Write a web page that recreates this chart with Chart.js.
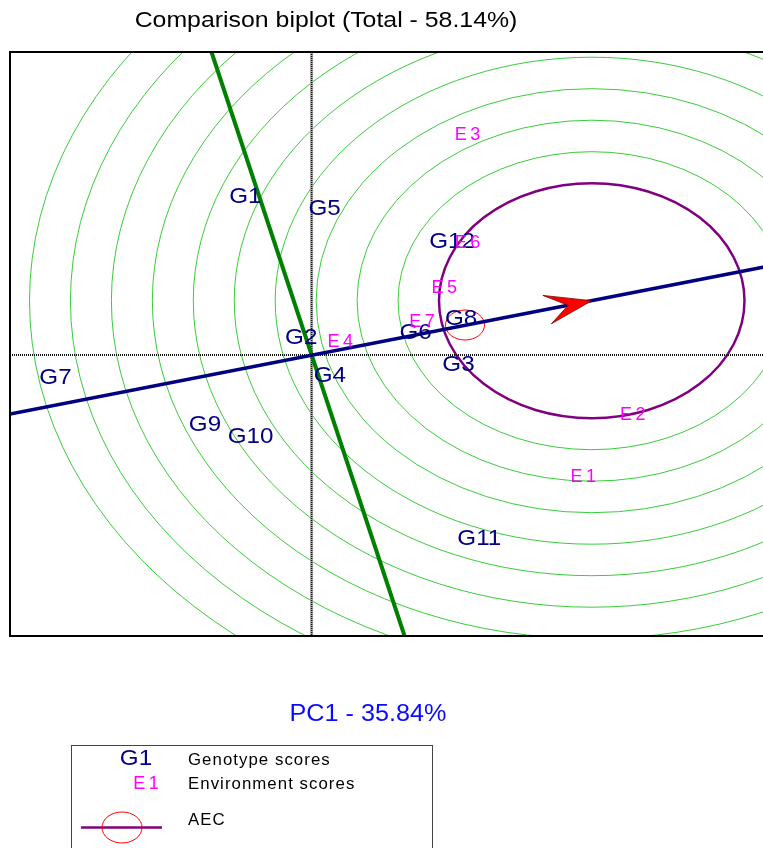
<!DOCTYPE html>
<html>
<head>
<meta charset="utf-8">
<script src="https://cdn.jsdelivr.net/npm/chart.js@4.4.1/dist/chart.umd.min.js"></script>
<style>
  html, body { margin: 0; padding: 0; background: #fff; overflow: hidden; }
  #wrap { position: absolute; left: 0; top: 0; width: 780px; height: 848px; }
</style>
</head>
<body>
<div id="wrap"><canvas id="biplot" width="780" height="848"></canvas></div>
<script>
// Comparison biplot (GGE) - genotype and environment scores on PC1 / PC2
const genoNames = ['G1', 'G2', 'G3', 'G4', 'G5', 'G6', 'G7', 'G8', 'G9', 'G10', 'G11', 'G12'];
const genoX = [-0.51, -0.08, 1.13, 0.14, 0.10, 0.80, -1.97, 1.15, -0.82, -0.47, 1.29, 1.08];
const genoY = [1.58, 0.17, -0.10, -0.21, 1.46, 0.22, -0.23, 0.36, -0.70, -0.82, -1.84, 1.13];

const envNames = ['E1', 'E2', 'E3', 'E4', 'E5', 'E6', 'E7'];
const envX = [2.09, 2.47, 1.20, 0.22, 1.02, 1.20, 0.85];
const envY = [-1.22, -0.60, 2.20, 0.13, 0.67, 1.12, 0.33];

// average environment axis (through origin) and the perpendicular axis
const aecEndsX = [-2.32, 3.56];
const aecEndsY = [-0.59, 0.90];
const atcEndsX = [-0.77, 0.715];
const atcEndsY = [3.03, -2.81];

// ideal genotype (arrow tip, centre of the rings) and average environment
const idealX = 2.155;
const idealY = 0.543;
const aeaX = 1.18;
const aeaY = 0.30;
const aeaRadius = 0.15;
const ringRadii = [1.175, 1.49, 1.805, 2.12, 2.435, 2.75, 3.065, 3.38, 3.695, 4.01, 4.325];

const xRange = [-2.32, 3.56];
const yRange = [-2.81, 3.03];

const FONT = "'Liberation Sans', Arial, sans-serif";

function toPoints(xs, ys) {
  return xs.map((x, i) => ({ x: x, y: ys[i] }));
}

function drawText(ctx, str, x, y, size, color, align, sx, spacing) {
  ctx.save();
  ctx.translate(x, y);
  ctx.scale(sx || 1, 1);
  ctx.font = size + 'px ' + FONT;
  ctx.fillStyle = color;
  ctx.textAlign = align || 'center';
  ctx.textBaseline = 'middle';
  const sp = spacing || 0;
  ctx.letterSpacing = sp + 'px';
  const dx = align === 'center' || !align ? sp / 2 : 0;
  ctx.fillText(str, dx, 0);
  ctx.restore();
}

const biplotPlugin = {
  id: 'biplot',
  beforeDatasetsDraw(chart) {
    const { ctx, chartArea: a, scales: { x, y } } = chart;
    ctx.save();
    ctx.beginPath();
    ctx.rect(a.left, a.top, a.right - a.left, a.bottom - a.top);
    ctx.clip();

    const cx = x.getPixelForValue(idealX);
    const cy = y.getPixelForValue(idealY);
    ringRadii.forEach((r, i) => {
      const rx = x.getPixelForValue(idealX + r) - cx;
      const ry = cy - y.getPixelForValue(idealY + r);
      ctx.beginPath();
      ctx.ellipse(cx, cy, rx, ry, 0, 0, Math.PI * 2);
      ctx.strokeStyle = i === 0 ? '#800080' : '#3acc3a';
      ctx.lineWidth = i === 0 ? 2.5 : 1;
      ctx.stroke();
    });

    // small circle on the average environment
    const ax = x.getPixelForValue(aeaX);
    const ay = y.getPixelForValue(aeaY);
    ctx.beginPath();
    ctx.ellipse(ax, ay,
      x.getPixelForValue(aeaX + aeaRadius) - ax,
      ay - y.getPixelForValue(aeaY + aeaRadius), 0, 0, Math.PI * 2);
    ctx.strokeStyle = '#ff0000';
    ctx.lineWidth = 1;
    ctx.stroke();

    // dotted axes through the origin
    const x0 = x.getPixelForValue(0);
    const y0 = y.getPixelForValue(0);
    ctx.setLineDash([1, 1]);
    ctx.strokeStyle = '#111';
    ctx.lineWidth = 2;
    ctx.beginPath();
    ctx.moveTo(a.left, y0);
    ctx.lineTo(a.right, y0);
    ctx.stroke();
    ctx.setLineDash([]);
    ctx.strokeStyle = '#aaa';
    ctx.lineWidth = 3;
    ctx.beginPath();
    ctx.moveTo(x0, a.top);
    ctx.lineTo(x0, a.bottom);
    ctx.stroke();
    ctx.setLineDash([1, 1]);
    ctx.strokeStyle = '#111';
    ctx.lineWidth = 1.5;
    ctx.beginPath();
    ctx.moveTo(x0, a.top);
    ctx.lineTo(x0, a.bottom);
    ctx.stroke();
    ctx.restore();
  },
  afterDatasetsDraw(chart) {
    const { ctx, scales: { x, y } } = chart;

    // arrow head pointing to the ideal genotype
    const ox = x.getPixelForValue(0), oy = y.getPixelForValue(0);
    const tx = x.getPixelForValue(idealX), ty = y.getPixelForValue(idealY);
    const len = Math.hypot(tx - ox, ty - oy);
    const ux = (tx - ox) / len, uy = (ty - oy) / len;
    const nx = -uy, ny = ux;
    const pt = (a, b) => [tx + ux * a + nx * b, ty + uy * a + ny * b];
    const pA = pt(-47, -14.5), pN = pt(-24, 0), pB = pt(-44, 15);
    ctx.save();
    ctx.beginPath();
    ctx.moveTo(tx, ty);
    ctx.lineTo(pA[0], pA[1]);
    ctx.lineTo(pN[0], pN[1]);
    ctx.lineTo(pB[0], pB[1]);
    ctx.closePath();
    ctx.fillStyle = '#ff0000';
    ctx.fill();
    ctx.strokeStyle = '#7a0000';
    ctx.lineWidth = 0.8;
    ctx.stroke();
    ctx.restore();

    // score labels
    chart.getDatasetMeta(0).data.forEach((el, i) => {
      drawText(ctx, genoNames[i], el.x, el.y, 22, '#000080', 'center', 1.1);
    });
    chart.getDatasetMeta(1).data.forEach((el, i) => {
      drawText(ctx, envNames[i], el.x, el.y, 18, '#ff00ff', 'center', 1.0, 3.5);
    });
  },
  afterDraw(chart) {
    const { ctx, chartArea: a } = chart;
    ctx.save();
    ctx.strokeStyle = '#000';
    ctx.lineWidth = 2;
    ctx.strokeRect(a.left, a.top, a.right - a.left, a.bottom - a.top);
    ctx.restore();

    drawText(ctx, 'Comparison biplot (Total - 58.14%)', 326, 21, 22, '#000', 'center', 1.13);
    drawText(ctx, 'PC1 - 35.84%', 368, 714, 24, '#0a0aff', 'center', 1.05);

    // legend box
    ctx.save();
    ctx.strokeStyle = '#444';
    ctx.lineWidth = 1;
    ctx.strokeRect(71.5, 745.5, 361, 130);
    ctx.beginPath();
    ctx.moveTo(81, 827.5);
    ctx.lineTo(162, 827.5);
    ctx.strokeStyle = '#800080';
    ctx.lineWidth = 2.5;
    ctx.stroke();
    ctx.beginPath();
    ctx.ellipse(122, 827.5, 20, 15.5, 0, 0, Math.PI * 2);
    ctx.strokeStyle = '#ff0000';
    ctx.lineWidth = 1;
    ctx.stroke();
    ctx.restore();
    drawText(ctx, 'G1', 136, 759, 22, '#000080', 'center', 1.1);
    drawText(ctx, 'E1', 146, 784.5, 18, '#ff00ff', 'center', 1.0, 3.5);
    drawText(ctx, 'Genotype scores', 188, 761, 16, '#000', 'left', 1.05, 1);
    drawText(ctx, 'Environment scores', 188, 785, 16, '#000', 'left', 1.05, 1);
    drawText(ctx, 'AEC', 188, 820.5, 16, '#000', 'left', 1.05, 1);
  }
};

new Chart(document.getElementById('biplot'), {
  type: 'scatter',
  data: {
    datasets: [
      { label: 'Genotype scores', data: toPoints(genoX, genoY), pointRadius: 0 },
      { label: 'Environment scores', data: toPoints(envX, envY), pointRadius: 0 },
      { label: 'AEC abscissa', data: toPoints(aecEndsX, aecEndsY), showLine: true,
        borderColor: '#000080', borderWidth: 3.5, pointRadius: 0 },
      { label: 'AEC ordinate', data: toPoints(atcEndsX, atcEndsY), showLine: true,
        borderColor: '#008000', borderWidth: 4, pointRadius: 0 }
    ]
  },
  options: {
    responsive: false,
    animation: false,
    events: [],
    layout: { padding: { left: 10, top: 52, right: 5.6, bottom: 212 } },
    plugins: { legend: { display: false }, tooltip: { enabled: false } },
    scales: {
      x: { type: 'linear', display: false, min: xRange[0], max: xRange[1] },
      y: { type: 'linear', display: false, min: yRange[0], max: yRange[1] }
    }
  },
  plugins: [biplotPlugin]
});
</script>
</body>
</html>
